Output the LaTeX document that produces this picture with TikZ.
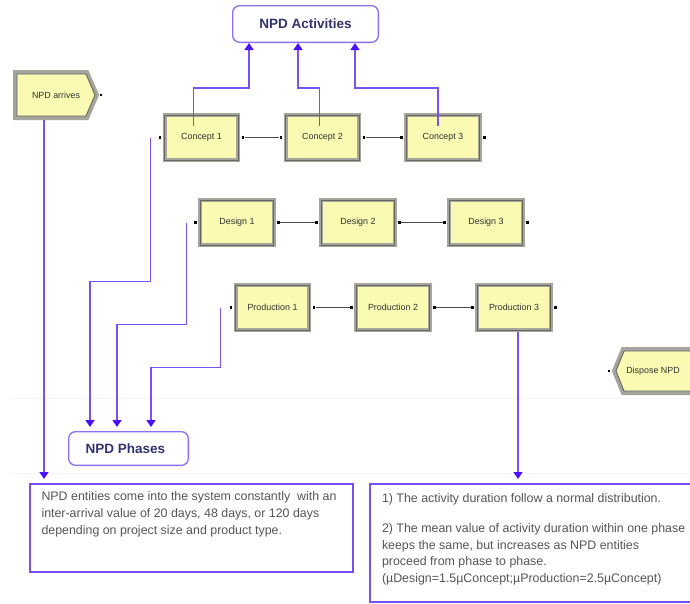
\documentclass[tikz,border=0pt]{standalone}
\usepackage{fontspec}
\setmainfont{Liberation Sans}
\usetikzlibrary{arrows.meta,calc}
\definecolor{blockfill}{RGB}{250,250,178}
\definecolor{blockedge}{RGB}{165,165,158}
\definecolor{blockinner}{RGB}{105,105,100}
\definecolor{conn}{RGB}{120,80,245}
\definecolor{tipc}{RGB}{75,15,255}
\definecolor{navy}{RGB}{50,50,110}
\definecolor{boxedge}{RGB}{140,110,240}
\definecolor{txt}{RGB}{85,85,85}
\begin{document}
\begin{tikzpicture}[x=1pt,y=-1pt,
  block/.style={rectangle, fill=blockfill, draw=blockedge, line width=4pt,
    minimum width=73.5pt, minimum height=45pt, inner sep=0pt,
    font=\fontsize{8.9}{10}\selectfont, text=black!80},
  sigbox/.style={fill=blockfill, draw=blockedge, line width=4pt, line join=miter},
  bevel/.style={draw=blockinner, line width=0.9pt, line join=miter},
  sigtext/.style={inner sep=0pt, font=\fontsize{8.9}{10}\selectfont, text=black!80},
  port/.style={rectangle, fill=black, minimum size=2.6pt, inner sep=0pt},
  flow/.style={draw=black!70, line width=0.8pt},
  link/.style={draw=conn, line width=1.4pt,
    -{Triangle[width=9pt,length=7pt,color=tipc]}},
  tag/.style={rectangle, rounded corners=7pt, draw=boxedge, line width=1.3pt,
    fill=white, inner sep=0pt, font=\bfseries\fontsize{13.5}{16}\selectfont, text=navy},
  note/.style={rectangle, draw=conn, line width=2pt, fill=white, inner xsep=11pt,
    inner ysep=0pt, anchor=north west, text=txt,
    font=\fontsize{12.4}{16.8}\selectfont}
]
\useasboundingbox (0,0) rectangle (690,603);
\clip (0,0) rectangle (690,603);
\fill[white] (0,0) rectangle (690,603);
\draw[gray!7, line width=0.8pt] (10,398) -- (690,398);
\draw[gray!7, line width=0.8pt] (10,473) -- (690,473);

% labels
\node[tag, minimum width=145.7pt, minimum height=36.7pt] (act) at (305.5,24) {NPD Activities};
\node[tag, minimum width=119.7pt, minimum height=33.7pt] (ph) at (128.5,448.5) {\hspace*{-6pt}NPD Phases};

% blocks
\node[block] (c1) at (201.5,137.5) {Concept 1};
\node[block] (c2) at (322.5,137.5) {Concept 2};
\node[block] (c3) at (443,137.5) {Concept 3};
\node[block] (d1) at (237,222.5) {Design 1};
\node[block] (d2) at (358,222.5) {Design 2};
\node[block] (d3) at (486,222.5) {Design 3};
\node[block] (p1) at (272.5,307.5) {Production 1};
\node[block] (p2) at (393,307.5) {Production 2};
\node[block] (p3) at (514,307.5) {Production 3};

% create / dispose
\draw[sigbox] (15,72) -- (87,72) -- (97,95) -- (87,118) -- (15,118) -- cycle;
\draw[bevel] (17,74) -- (86,74) -- (95,95) -- (86,116) -- (17,116) -- cycle;
\node[sigtext, minimum width=86pt, minimum height=50pt] (arr) at (56,95) {NPD arrives};
\node[port] (arrout) at (101,95) {};
\draw[sigbox] (623,349) -- (705,349) -- (705,393) -- (623,393) -- (614,371) -- cycle;
\draw[bevel] (624,351) -- (705,351) -- (705,391) -- (624,391) -- (616,371) -- cycle;
\node[sigtext] (disp) at (653,371) {Dispose NPD};
\node[port] (dispin) at (609,371) {};

% bevel and ports
\foreach \b in {c1,c2,c3,d1,d2,d3,p1,p2,p3}{
  \draw[bevel] ($(\b.south west)+(2,-2)$) rectangle ($(\b.north east)+(-2,2)$);
  \node[port] (\b in) at ($(\b.west)+(-2.8,0)$) {};
  \node[port] (\b out) at ($(\b.east)+(2.8,0)$) {};
}

% flow connectors
\draw[flow] (c1out) -- (c2in);
\draw[flow] (c2out) -- (c3in);
\draw[flow] (d1out) -- (d2in);
\draw[flow] (d2out) -- (d3in);
\draw[flow] (p1out) -- (p2in);
\draw[flow] (p2out) -- (p3in);

% notes
\node[note, minimum width=323pt, minimum height=88pt] (n1) at (29,483)
  {\parbox[t][88pt][t]{300pt}{\raggedright\vspace*{7.5pt}NPD entities come into the system constantly\ \ with an\\
  inter-arrival value of 20 days, 48 days, or 120 days\\
  depending on project size and product type.}};
\node[note, minimum width=336pt, minimum height=118pt, inner xsep=12pt] (n2) at (369,483)
  {\parbox[t][118pt][t]{312pt}{\raggedright\vspace*{9.5pt}1) The activity duration follow a normal distribution.\\[13pt]
  2) The mean value of activity duration within one phase\\
  keeps the same, but increases as NPD entities\\
  proceed from phase to phase.\\
  (µDesign=1.5µConcept;µProduction=2.5µConcept)}};

% links to NPD Activities
\draw[link] ($(c1.center)+(-8,-12)$) |- ($(act.south)+(-56.5,45)$) -- ($(act.south)+(-56.5,0)$);
\draw[link] ($(c2.center)+(-3,-12)$) |- ($(act.south)+(-7.5,45)$) -- ($(act.south)+(-7.5,0)$);
\draw[link] ($(c3.center)+(-5,-12)$) |- ($(act.south)+(49.5,45)$) -- ($(act.south)+(49.5,0)$);

% links to NPD Phases
\coordinate (c1tap) at ($(c1.west)+(-12,0)$);
\coordinate (d1tap) at ($(d1.west)+(-11.5,0)$);
\coordinate (p1tap) at ($(p1.west)+(-13,0)$);
\draw[link] (c1tap) -- ++(0,144) -| ($(ph.north)+(-38.5,-4)$);
\draw[link] (d1tap) -- ++(0,102) -| ($(ph.north)+(-11.5,-4)$);
\draw[link] (p1tap) -- ++(0,60) -| ($(ph.north)+(22.5,-4)$);

% links to notes
\coordinate (arrtap) at ($(arr.south)+(-12,0)$);
\draw[link, shorten >=4pt] (arrtap) -- (arrtap |- n1.north);
\coordinate (p3tap) at ($(p3.south)+(4,0)$);
\draw[link, shorten >=4pt] (p3tap) -- (p3tap |- n2.north);
\end{tikzpicture}
\end{document}
